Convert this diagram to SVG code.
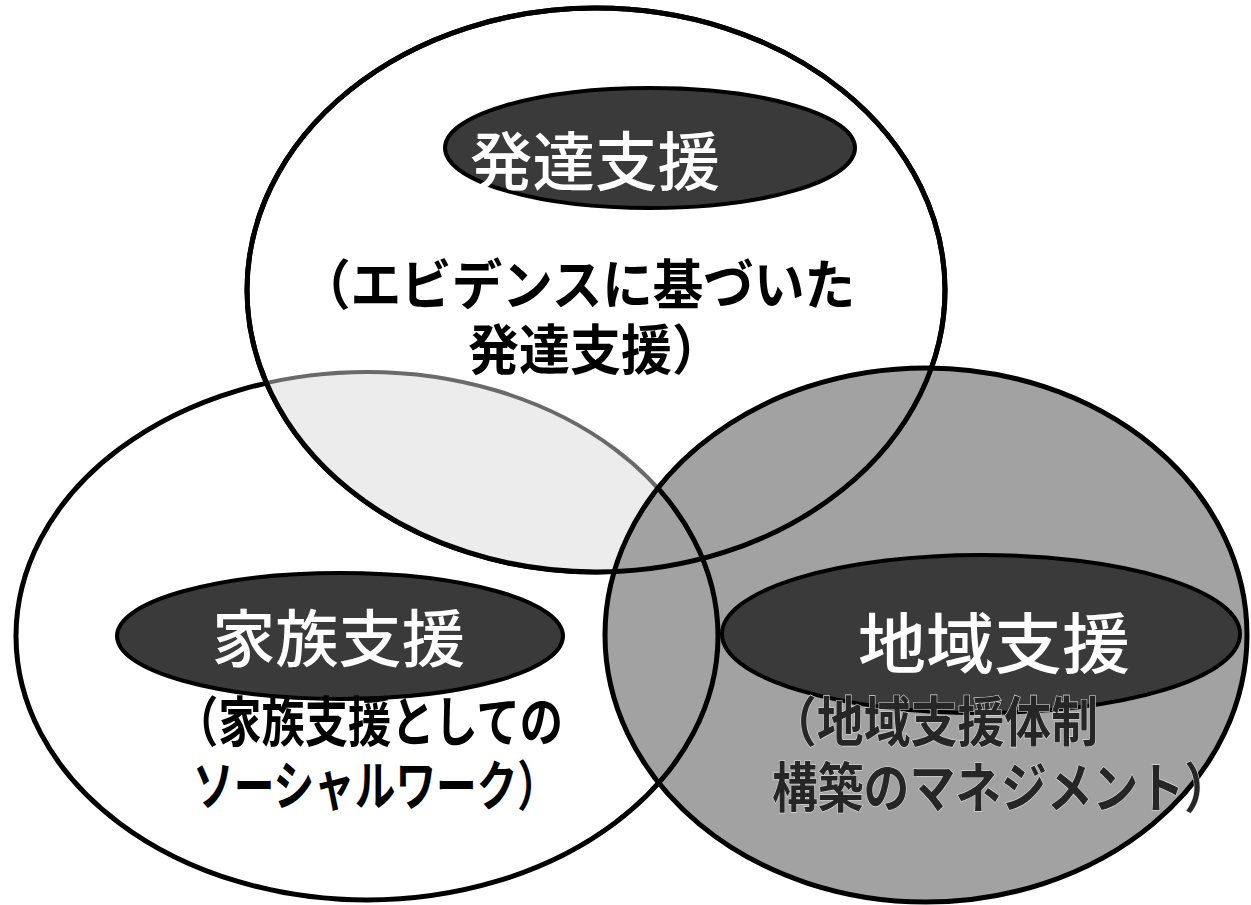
<svg xmlns="http://www.w3.org/2000/svg" width="1251" height="905" viewBox="0 0 1251 905">
<style>
.ring{stroke:#000;stroke-width:5}
.pill{fill:#3a3a3a;stroke:#000;stroke-width:4}
.title{font-family:"Noto Sans CJK JP","Noto Sans",sans-serif;fill:#fff;font-weight:500}
.sub{font-family:"Noto Sans CJK JP","Noto Sans",sans-serif;fill:#000;font-weight:700}
.subd{font-family:"Noto Sans CJK JP","Noto Sans",sans-serif;fill:#262626;font-weight:700;stroke:#e0e0e0;stroke-width:1.2;paint-order:stroke}
</style>
<defs>
<clipPath id="clipTop"><ellipse cx="596" cy="290" rx="349" ry="282"/></clipPath>
<clipPath id="clipRight"><ellipse cx="926" cy="635" rx="321" ry="267"/></clipPath>
</defs>
<rect width="1251" height="905" fill="#fff"/>
<g id="circles">
<ellipse id="left-ring" cx="367" cy="636" rx="351" ry="264" fill="#fff" class="ring"/>
<ellipse id="top-ring" cx="596" cy="290" rx="349" ry="282" fill="#fff" class="ring"/>
<g clip-path="url(#clipTop)">
<ellipse cx="367" cy="636" rx="351" ry="264" fill="#ececec" stroke="#6a6a6a" stroke-width="4"/>
</g>
<ellipse cx="596" cy="290" rx="349" ry="282" fill="none" class="ring"/>
<ellipse id="right-ring" cx="926" cy="635" rx="321" ry="267" fill="#a2a2a2" class="ring"/>
<g clip-path="url(#clipRight)">
<g clip-path="url(#clipTop)">
<ellipse cx="367" cy="636" rx="351" ry="264" fill="none" stroke="#6a6a6a" stroke-width="2"/>
</g>
<ellipse cx="596" cy="290" rx="349" ry="282" fill="none" stroke="#000" stroke-width="5"/>
<ellipse cx="367" cy="636" rx="351" ry="264" fill="none" stroke="#000" stroke-width="5"/>
</g>
</g>
<g id="node-hattatsu">
<ellipse cx="650" cy="148" rx="205" ry="60" class="pill"/>
<text x="470" y="185" font-size="64" textLength="250" lengthAdjust="spacingAndGlyphs" class="title">発達支援</text>
<text class="sub" font-size="54"><tspan x="300" y="305" textLength="555" lengthAdjust="spacingAndGlyphs">（エビデンスに基づいた</tspan><tspan x="468" y="370" textLength="255" lengthAdjust="spacingAndGlyphs">発達支援）</tspan></text>
</g>
<g id="node-kazoku">
<ellipse cx="340" cy="636" rx="223" ry="63" class="pill"/>
<text x="212" y="662" font-size="62" textLength="253" lengthAdjust="spacingAndGlyphs" class="title">家族支援</text>
<text class="sub" font-size="54"><tspan x="175" y="742" textLength="388" lengthAdjust="spacingAndGlyphs">（家族支援としての</tspan><tspan x="193" y="806" textLength="365" lengthAdjust="spacingAndGlyphs">ソーシャルワーク）</tspan></text>
</g>
<g id="node-chiiki">
<ellipse cx="981" cy="634" rx="259" ry="79" class="pill"/>
<text x="858" y="668" font-size="66" textLength="272" lengthAdjust="spacingAndGlyphs" class="title">地域支援</text>
<text class="subd" font-size="54"><tspan x="770" y="742" textLength="328" lengthAdjust="spacingAndGlyphs">（地域支援体制</tspan><tspan x="772" y="808" textLength="458" lengthAdjust="spacingAndGlyphs">構築のマネジメント）</tspan></text>
</g>
</svg>
